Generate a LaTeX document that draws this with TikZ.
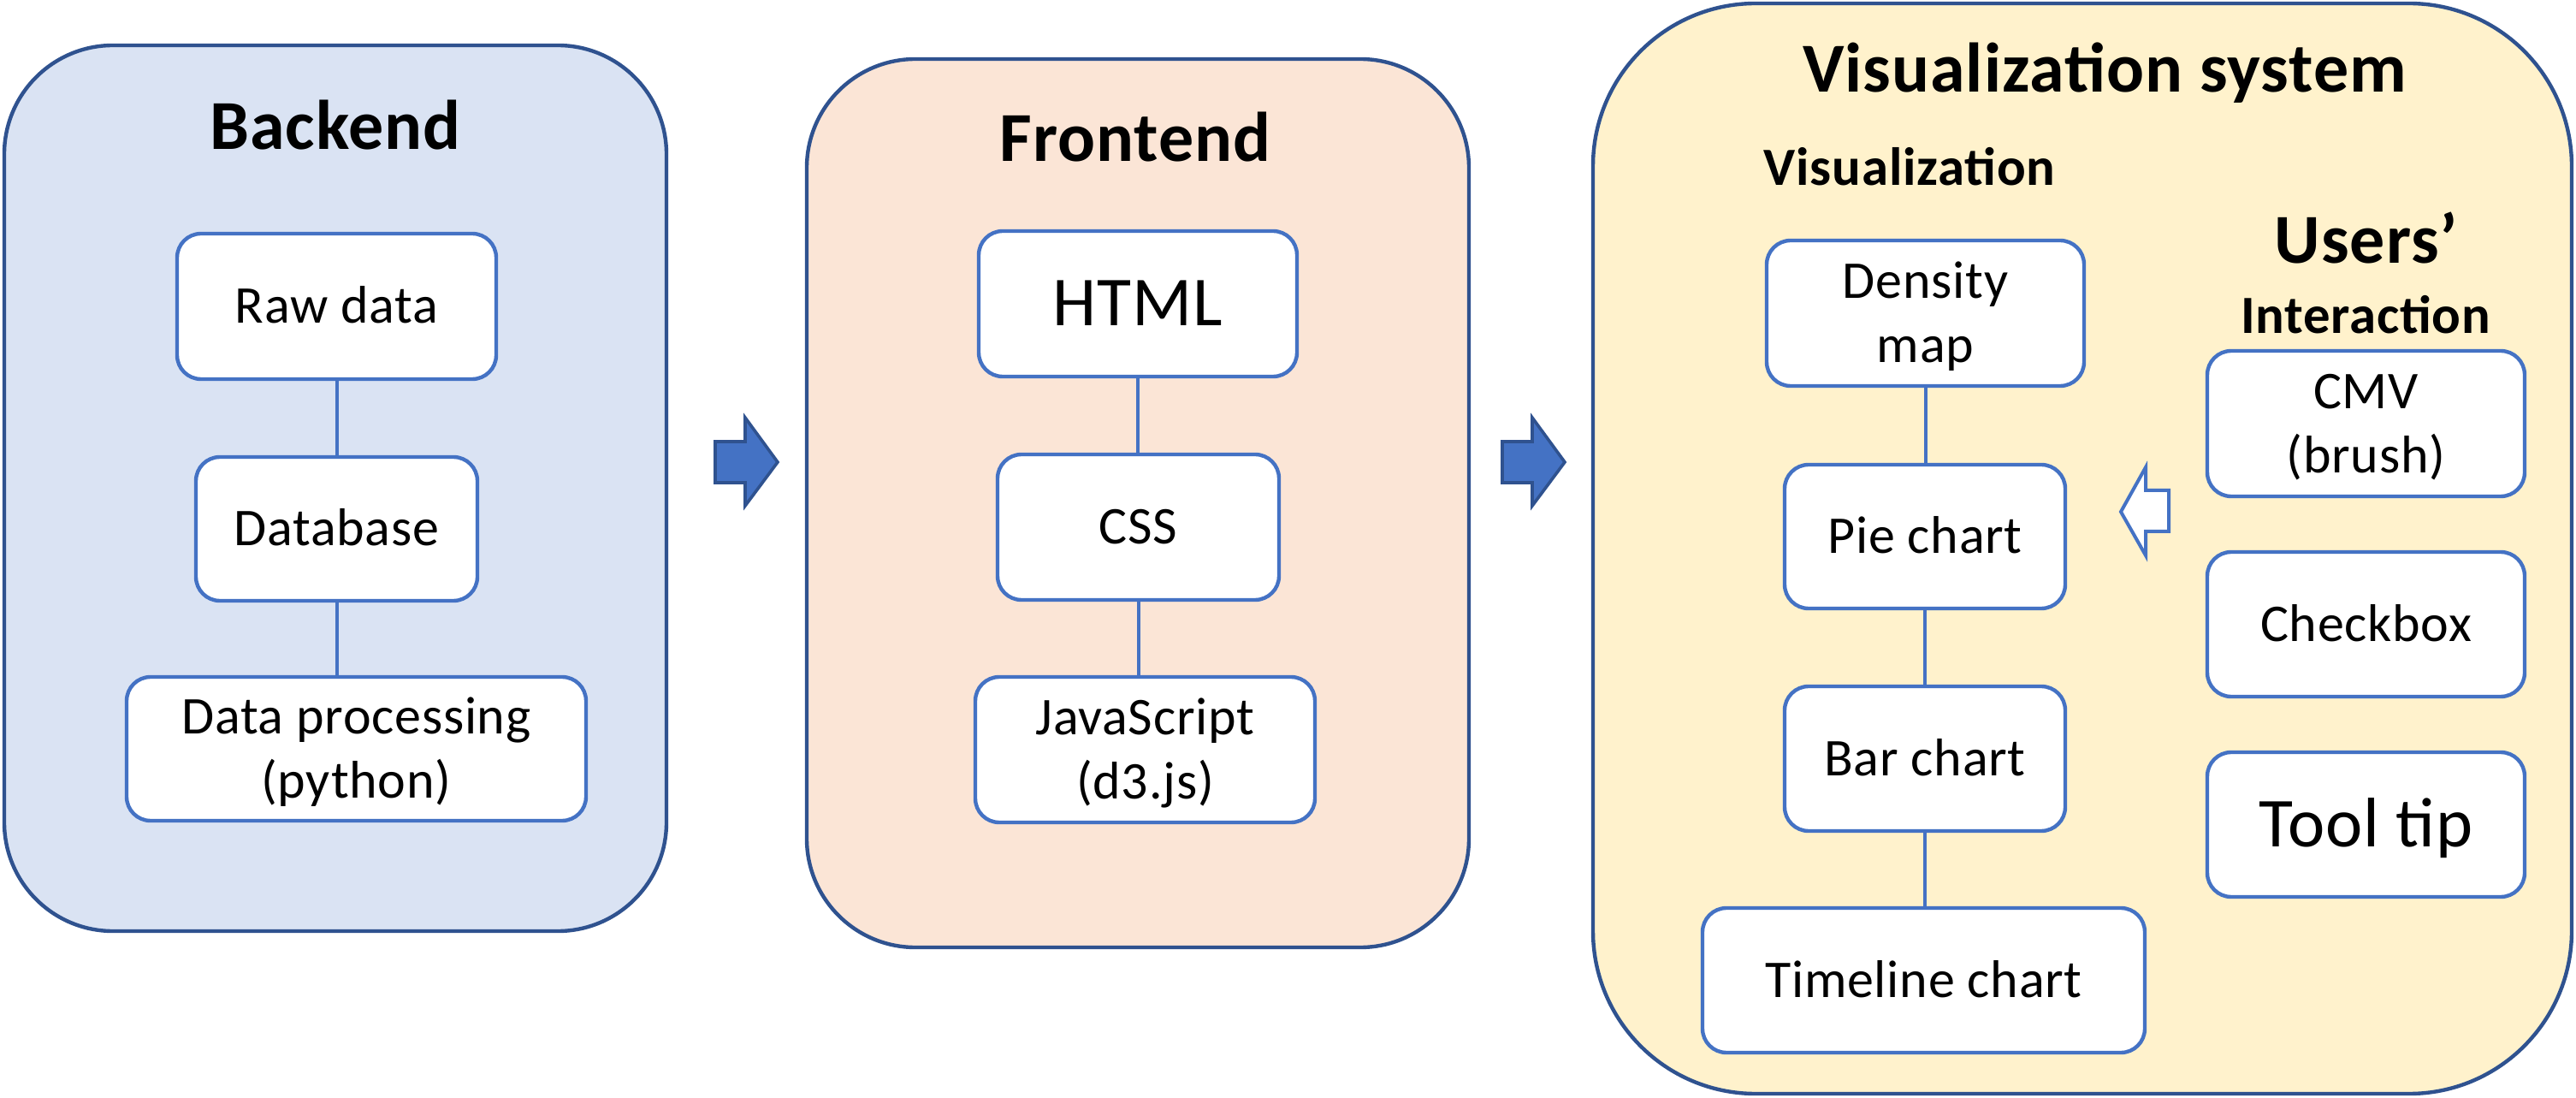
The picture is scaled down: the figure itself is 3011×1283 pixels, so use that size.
\documentclass[tikz,border=0pt]{standalone}
\usepackage{fontspec}
\setmainfont{Carlito}[LetterSpace=1.2]
\definecolor{dkb}{HTML}{2F528F}
\definecolor{acc}{HTML}{4472C4}
\definecolor{bfill}{HTML}{DAE3F3}
\definecolor{ffill}{HTML}{FBE5D6}
\definecolor{vfill}{HTML}{FFF2CC}
\newcommand\twoline[2]{\vbox{\baselineskip=18.75pt\halign{\hfil##\hfil\cr#1\cr#2\cr}}}
\tikzset{
  sz/.style 2 args={minimum width=#1*0.25pt, minimum height=#2*0.25pt},
  panel/.style={draw=dkb, line width=1.1pt, inner sep=0pt, rectangle},
  ibox/.style={draw=acc, line width=1.1pt, fill=white, inner sep=0pt, rectangle, rounded corners=7pt,
    font=\fontsize{15.5pt}{18.75pt}\selectfont},
  one/.style={text height=9.8pt, text depth=0pt},
  onebig/.style={text height=12.95pt, text depth=0pt, font=\fontsize{20.5pt}{24.6pt}\selectfont},
  two/.style={text height=28.55pt, text depth=0pt},
  ttl/.style={anchor=base, inner sep=0pt, font=\fontsize{20.5pt}{24.6pt}\selectfont\bfseries},
  sub/.style={anchor=base, inner sep=0pt, font=\fontsize{15.7pt}{18.75pt}\selectfont\bfseries},
  conn/.style={draw=acc, line width=1pt},
  blockarrow/.style={fill=acc, draw=dkb, line width=0.9pt},
  hollowarrow/.style={fill=white, draw=acc, line width=1pt}
}
\begin{document}
\begin{tikzpicture}[x=0.25pt,y=-0.25pt]
\useasboundingbox (0,0) rectangle (3011,1283);

% panels
\node[panel, fill=bfill, rounded corners=31.75pt, sz={774}{1035}] (backend) at (392,570.5) {};
\node[panel, fill=ffill, rounded corners=31.75pt, sz={774}{1038}] (frontend) at (1330,588) {};
\node[panel, fill=vfill, rounded corners=47.5pt, sz={1144}{1274}] (vis) at (2434,641) {};

% titles
\node[ttl] (tback) at (392,175) {Backend};
\node[ttl] (tfront) at (1327,189) {Frontend};
\node[ttl] (tvis) at (2460,108) {Visualization system};
\node[sub] (tvissub) at (2232,217) {Visualization};
\node[ttl] (tusers) at (2766,308) {Users’};
\node[sub] (tinter) at (2765,390) {Interaction};

% backend boxes
\node[ibox, one, sz={373}{170}] (raw) at (393.5,358) {Raw data};
\node[ibox, one, sz={329}{168}] (db) at (393.5,618) {Database};
\node[ibox, two, sz={537}{168}] (dp) at (416.5,875) {\twoline{Data processing}{(python)}};

% frontend boxes
\node[ibox, onebig, sz={372}{170}] (html) at (1330,355) {HTML};
\node[ibox, one, sz={329}{170}] (css) at (1330.5,616) {CSS};
\node[ibox, two, sz={397}{170}] (js) at (1338.5,876) {\twoline{JavaScript}{(d3.js)}};

% visualization boxes
\node[ibox, two, sz={371}{170}] (dens) at (2250.5,366) {\twoline{Density}{map}};
\node[ibox, one, sz={328}{168}] (pie) at (2250,627) {Pie chart};
\node[ibox, one, sz={328}{169}] (bar) at (2250,886.5) {Bar chart};
\node[ibox, one, sz={517}{169}] (time) at (2248.5,1145.5) {Timeline chart};

% interaction boxes
\node[ibox, two, sz={371}{170}] (cmv) at (2765.5,495) {\twoline{CMV}{(brush)}};
\node[ibox, one, sz={371}{169}] (check) at (2765.5,729.5) {Checkbox};
\node[ibox, onebig, sz={371}{169}] (tool) at (2765.5,963.5) {Tool tip};

% connectors
\draw[conn] (raw.south) -- (db.north);
\draw[conn] (db.south) -- (db.south |- dp.north);
\draw[conn] (html.south) -- (html.south |- css.north);
\draw[conn] (css.south) -- (css.south |- js.north);
\draw[conn] (dens.south) -- (dens.south |- pie.north);
\draw[conn] (pie.south) -- (pie.south |- bar.north);
\draw[conn] (bar.south) -- (bar.south |- time.north);

% block arrows
\draw[blockarrow] (836,516) -- (871,516) -- (871,488) -- (909,540) -- (871,591) -- (871,564) -- (836,564) -- cycle;
\draw[blockarrow] (1756,516) -- (1791,516) -- (1791,488) -- (1829,540) -- (1791,591) -- (1791,564) -- (1756,564) -- cycle;
\draw[hollowarrow] (2479,598) -- (2508,546) -- (2508,573) -- (2535,573) -- (2535,621) -- (2508,621) -- (2508,649) -- cycle;
\end{tikzpicture}
\end{document}
